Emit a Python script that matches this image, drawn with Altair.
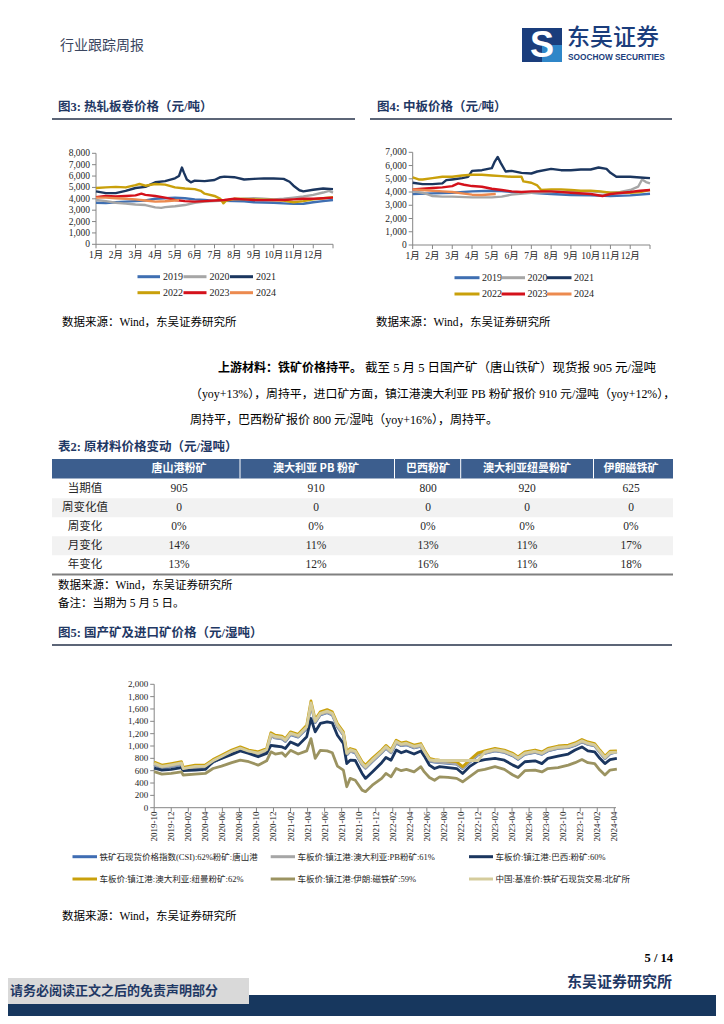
import altair as alt
import pandas as pd

OFF = 8.0


def P(v):
    return round(float(v) - OFF, 2)


SERIF = "Liberation Serif, Noto Sans CJK SC"
CJK = "Noto Sans CJK SC"
NAVY = "#1f3864"
AXIS = "#868686"
ONE = alt.Data(values=[{"k": 0}])

# ---------------- Figure 3: hot-rolled coil price (yuan/t) ----------------
MONTH_LABELS = ["1月", "2月", "3月", "4月", "5月", "6月", "7月", "8月", "9月", "10月", "11月", "12月"]
YEARS = ["2019", "2020", "2021", "2022", "2023", "2024"]
YEAR_COLORS = ["#3f6fb2", "#a6a6a6", "#1b365f", "#c9a00b", "#d4111b", "#ec8a4f"]

HRC19_T = [0, 0.5, 1, 1.5, 2, 2.5, 3, 3.5, 4, 4.5, 5, 5.5, 6, 6.5, 7, 7.5, 8, 8.5, 9, 9.5, 10, 10.5, 11, 11.5, 12]
HRC19_V = [3650, 3620, 3700, 3750, 3800, 3850, 4000, 4050, 4100, 4050, 3950, 3900, 3820, 3820, 3800, 3780, 3700, 3680,
           3650, 3600, 3550, 3560, 3700, 3800, 3900]
HRC20_T = [0, 0.5, 1, 1.5, 2, 2.5, 3, 3.3, 3.5, 4, 4.5, 5, 5.5, 6, 6.5, 7, 7.5, 8, 8.5, 9, 9.5, 10, 10.5, 11, 11.5,
           11.8, 12]
HRC20_V = [3900, 3800, 3650, 3580, 3500, 3450, 3250, 3200, 3270, 3350, 3450, 3650, 3750, 3800, 3850, 3950, 4000, 4050,
           4000, 3950, 4000, 4100, 4200, 4350, 4550, 4700, 4550]
HRC21_T = [0, 0.5, 1, 1.5, 2, 2.5, 3, 3.5, 4, 4.2, 4.3, 4.35, 4.45, 4.6, 4.8, 5, 5.5, 6, 6.3, 6.5, 7, 7.5, 8, 8.5, 9,
           9.5, 9.8, 10, 10.3, 10.5, 11, 11.5, 12]
HRC21_V = [4650, 4500, 4500, 4700, 4950, 5050, 5450, 5550, 5800, 6000, 6500, 6750, 6300, 5700, 5450, 5600, 5550, 5650,
           5900, 5950, 5900, 5700, 5750, 5800, 5780, 5750, 5500, 5150, 4750, 4650, 4800, 4900, 4850]
HRC22_T = [0, 0.5, 1, 1.5, 2, 2.2, 2.5, 3, 3.5, 4, 4.5, 5, 5.3, 5.5, 6, 6.3, 6.45, 6.6, 7, 7.5, 8, 8.5, 9, 9.5, 10,
           10.5, 11, 11.5, 12]
HRC22_V = [4950, 5000, 5050, 5000, 5200, 5300, 5150, 5300, 5250, 5000, 4900, 4850, 4700, 4450, 4250, 4000, 3600, 3850,
           4000, 3980, 3950, 3920, 3900, 3850, 3700, 3800, 3950, 4050, 4150]
HRC23_T = [0, 0.5, 1, 1.5, 2, 2.3, 2.5, 3, 3.5, 4, 4.5, 5, 5.5, 6, 6.5, 7, 7.5, 8, 8.5, 9, 9.5, 10, 10.5, 11, 11.5, 12]
HRC23_V = [4150, 4250, 4200, 4250, 4300, 4450, 4350, 4250, 4100, 3900, 3800, 3750, 3800, 3850, 3900, 4000, 3950, 3900,
           3880, 3900, 3900, 3950, 4000, 4000, 4050, 4100]
HRC24_T = [0, 0.5, 1, 1.5, 2, 2.5, 3, 3.5, 4, 4.2]
HRC24_V = [4100, 4100, 4050, 4000, 3950, 3850, 3750, 3780, 3850, 3880]
HRC_YTICKS = [0, 1000, 2000, 3000, 4000, 5000, 6000, 7000, 8000]
HRC_YLABELS = ["0", "1,000", "2,000", "3,000", "4,000", "5,000", "6,000", "7,000", "8,000"]

# ---------------- Figure 4: medium plate price (yuan/t) ----------------
PL19_T = [0, 1, 2, 3, 4, 4.5, 5, 6, 7, 8, 9, 10, 11, 12]
PL19_V = [3850, 3900, 3950, 4050, 4100, 4080, 4000, 3950, 3850, 3780, 3750, 3700, 3750, 3870]
PL20_T = [0, 0.5, 0.8, 1, 1.5, 2, 3, 4, 4.5, 5, 6, 7, 8, 9, 10, 10.5, 11, 11.4, 11.6, 11.8, 12]
PL20_V = [4050, 3950, 3800, 3700, 3650, 3650, 3600, 3600, 3650, 3800, 3950, 4000, 4050, 4050, 3950, 4000, 4150, 4400,
          4950, 4750, 4650]
PL21_T = [0, 0.5, 1, 1.5, 1.7, 2, 2.5, 2.8, 3, 3.5, 4, 4.15, 4.3, 4.45, 4.7, 5, 5.5, 6, 6.3, 7, 7.5, 8, 8.5, 9, 9.4,
          9.8, 10, 10.3, 11, 11.5, 12]
PL21_V = [4700, 4600, 4600, 4650, 4900, 4950, 5050, 5150, 5600, 5650, 5800, 6300, 6650, 6200, 5550, 5600, 5450, 5400,
          5550, 5750, 5650, 5650, 5700, 5700, 5850, 5750, 5450, 5150, 5150, 5100, 5050]
PL22_T = [0, 0.3, 0.5, 1, 1.5, 2, 2.5, 3, 3.5, 4, 4.5, 5, 5.5, 5.6, 6, 6.3, 6.5, 7, 7.5, 8, 8.5, 9, 9.5, 10, 10.5, 11,
          11.5, 12]
PL22_V = [5100, 4950, 4950, 5050, 5150, 5150, 5250, 5300, 5300, 5250, 5200, 5150, 5150, 4800, 4700, 4500, 4150, 4200,
          4200, 4150, 4100, 4100, 4050, 3950, 3950, 3950, 4000, 4150]
PL23_T = [0, 0.5, 1, 1.5, 2, 2.3, 2.6, 3, 3.5, 4, 4.5, 5, 5.5, 6, 7, 8, 9, 9.6, 10, 11, 11.5, 12]
PL23_V = [4200, 4250, 4300, 4350, 4450, 4650, 4550, 4450, 4400, 4250, 4150, 4050, 4000, 4050, 4050, 3950, 3850, 3700,
          3850, 4000, 4100, 4150]
PL24_T = [0, 0.5, 1, 1.5, 2, 2.5, 3, 3.5, 4, 4.2]
PL24_V = [4200, 4150, 4100, 4050, 4000, 3900, 3800, 3780, 3830, 3850]
PL_YTICKS = [0, 1000, 2000, 3000, 4000, 5000, 6000, 7000]
PL_YLABELS = ["0", "1,000", "2,000", "3,000", "4,000", "5,000", "6,000", "7,000"]

# ---------------- Table 2: raw material prices ----------------
TABLE_HEADERS = ["唐山港粉矿", "澳大利亚 PB 粉矿", "巴西粉矿", "澳大利亚纽曼粉矿", "伊朗磁铁矿"]
TABLE_ROWS = ["当期值", "周变化值", "周变化", "月变化", "年变化"]
COL_TANGSHAN = ["905", "0", "0%", "14%", "13%"]
COL_PB = ["910", "0", "0%", "11%", "12%"]
COL_BRAZIL = ["800", "0", "0%", "13%", "16%"]
COL_NEWMAN = ["920", "0", "0%", "11%", "11%"]
COL_IRAN = ["625", "0", "0%", "17%", "18%"]

# ---------------- Figure 5: domestic & imported ore (yuan/wet t) ----------------
# months since 2019-10
T5 = [0, 0.9, 2.0, 3.2, 3.4, 4.8, 6.0, 6.9, 7.9, 9.1, 10.1, 11.1, 12.2, 13.2, 13.7, 14.2, 15.0, 15.4, 16.0, 16.9,
      17.9, 18.4, 18.9, 19.5, 20.3, 20.9, 21.5, 22.2, 22.6, 23.0, 23.6, 24.4, 24.8, 25.6, 26.7, 27.2, 27.8, 28.4, 29.0,
      29.6, 30.5, 31.3, 31.7, 32.3, 32.9, 33.5, 34.5, 35.5, 36.2, 37.0, 38.0, 38.8, 40.0, 41.1, 42.1, 42.7, 43.5,
      44.7, 45.5, 46.2, 47.4, 48.6, 49.4, 50.2, 50.9, 51.7, 52.3, 52.9, 53.5, 54.3]
CSI_TS = [695, 645, 670, 700, 610, 645, 650, 735, 805, 890, 940, 890, 860, 915, 1165, 1130, 1115, 1075, 1185, 1145,
          1285, 1670, 1380, 1505, 1540, 1505, 1315, 1180, 855, 915, 890, 695, 640, 750, 890, 965, 890, 1050, 1005,
          1020, 970, 995, 890, 755, 740, 730, 720, 705, 635, 735, 855, 880, 920, 895, 840, 785, 865, 895, 865, 920,
          960, 975, 1010, 1065, 1025, 1000, 895, 795, 875, 905]
PB61 = [700, 650, 675, 705, 615, 650, 655, 740, 810, 895, 945, 895, 865, 920, 1170, 1135, 1120, 1080, 1190, 1150,
        1290, 1680, 1385, 1510, 1545, 1510, 1320, 1185, 860, 920, 895, 700, 645, 755, 895, 970, 895, 1055, 1010, 1025,
        975, 1000, 895, 760, 745, 735, 725, 710, 640, 740, 860, 885, 925, 900, 845, 790, 870, 900, 870, 925, 965, 980,
        1015, 1070, 1030, 1005, 900, 800, 880, 910]
BRAZIL60 = [640, 610, 620, 650, 600, 610, 620, 745, 800, 865, 920, 880, 825, 880, 1010, 1000, 985, 960, 1065, 1010,
            1150, 1445, 1230, 1365, 1390, 1375, 1175, 1040, 715, 770, 765, 555, 475, 580, 730, 815, 770, 935, 890, 920,
            870, 920, 835, 690, 635, 665, 650, 635, 555, 665, 755, 780, 800, 770, 690, 650, 745, 760, 715, 800, 835,
            870, 935, 985, 920, 905, 800, 715, 780, 800]
NEWMAN62 = [740, 690, 715, 745, 655, 690, 695, 780, 850, 935, 985, 935, 905, 960, 1215, 1175, 1160, 1120, 1230, 1190,
            1335, 1730, 1430, 1555, 1590, 1555, 1365, 1230, 905, 960, 935, 745, 690, 800, 935, 1010, 935, 1095, 1050,
            1065, 1015, 1040, 935, 800, 780, 770, 760, 745, 665, 770, 890, 920, 960, 935, 880, 825, 905, 935, 905, 960,
            1000, 1015, 1050, 1105, 1065, 1040, 935, 835, 915, 920]
IRAN59 = [585, 545, 555, 580, 530, 545, 555, 635, 675, 730, 770, 745, 690, 760, 905, 870, 890, 835, 930, 870, 920,
          1120, 800, 930, 920, 890, 675, 610, 340, 475, 445, 285, 260, 365, 475, 555, 500, 635, 600, 620, 580, 665,
          580, 490, 445, 500, 490, 475, 420, 500, 600, 620, 665, 620, 530, 490, 600, 610, 580, 635, 650, 690, 730,
          780, 730, 715, 610, 530, 610, 625]
BMS = [720, 670, 695, 725, 635, 670, 675, 760, 830, 915, 965, 915, 885, 940, 1190, 1155, 1140, 1100, 1210, 1170, 1310,
       1700, 1405, 1530, 1565, 1530, 1340, 1205, 880, 940, 915, 720, 665, 775, 915, 990, 915, 1075, 1030, 1045, 995,
       1020, 915, 780, 765, 765, 765, 765, 765, 765, 765, 900, 940, 915, 860, 805, 885, 915, 885, 940, 980, 995,
       1030, 1085, 1045, 1020, 915, 815, 895, 900]
F5_NAMES = ["铁矿石现货价格指数(CSI):62%粉矿:唐山港", "车板价:镇江港:澳大利亚:PB粉矿:61%", "车板价:镇江港:巴西:粉矿:60%",
            "车板价:镇江港:澳大利亚:纽曼粉矿:62%", "车板价:镇江港:伊朗:磁铁矿:59%", "中国:基准价:铁矿石现货交易:北矿所"]
F5_COLORS = ["#3f6db3", "#a6a6a6", "#1b365f", "#c9a00b", "#9b9361", "#d5cc9c"]
F5_XLABELS = ["2019-10", "2019-12", "2020-02", "2020-04", "2020-06", "2020-08", "2020-10", "2020-12", "2021-02",
              "2021-04", "2021-06", "2021-08", "2021-10", "2021-12", "2022-02", "2022-04", "2022-06", "2022-08",
              "2022-10", "2022-12", "2023-02", "2023-04", "2023-06", "2023-08", "2023-10", "2023-12", "2024-02",
              "2024-04"]
F5_XTICKS = [2 * i for i in range(len(F5_XLABELS))]
F5_YTICKS = [0, 200, 400, 600, 800, 1000, 1200, 1400, 1600, 1800, 2000]
F5_YLABELS = ["0", "200", "400", "600", "800", "1,000", "1,200", "1,400", "1,600", "1,800", "2,000"]

layers = []


def text(s, x, y, size=12.0, color="#000000", weight="normal", align="left", font=SERIF, baseline="middle"):
    layers.append(alt.Chart(ONE).mark_text(text=s, fontSize=size, color=color, fontWeight=weight, align=align,
                                           baseline=baseline, font=font)
                  .encode(x=alt.value(P(x)), y=alt.value(P(y))))


def rect(x1, y1, x2, y2, color):
    layers.append(alt.Chart(ONE).mark_rect(color=color)
                  .encode(x=alt.value(P(x1)), x2=alt.value(P(x2)), y=alt.value(P(y1)), y2=alt.value(P(y2))))


def hline(x1, x2, y, color, w=1.0):
    layers.append(alt.Chart(ONE).mark_rule(color=color, strokeWidth=w)
                  .encode(x=alt.value(P(x1)), x2=alt.value(P(x2)), y=alt.value(P(y))))


def vline(x, y1, y2, color, w=1.0):
    layers.append(alt.Chart(ONE).mark_rule(color=color, strokeWidth=w)
                  .encode(x=alt.value(P(x)), y=alt.value(P(y1)), y2=alt.value(P(y2))))


def line_panel(series, xdom, xpx, ydom, ypx, sw, yticks, ylabs, xticks, lab_ticks, xlabs, xlab_y,
               rotate=False, lab_size=9.5):
    xs = alt.Scale(domain=xdom, range=[P(xpx[0]), P(xpx[1])], nice=False, zero=False)
    ys = alt.Scale(domain=ydom, range=[P(ypx[0]), P(ypx[1])], nice=False, zero=False)
    ax_x, ax_y = xpx[0], ypx[0]
    sub = [
        alt.Chart(ONE).mark_rule(color=AXIS, strokeWidth=1).encode(
            x=alt.value(P(ax_x)), y=alt.value(P(ypx[1])), y2=alt.value(P(ax_y))),
        alt.Chart(ONE).mark_rule(color=AXIS, strokeWidth=1).encode(
            x=alt.value(P(ax_x)), x2=alt.value(P(xpx[1])), y=alt.value(P(ax_y))),
    ]
    ydf = pd.DataFrame({"v": yticks, "lab": ylabs})
    sub.append(alt.Chart(ydf).mark_rule(color=AXIS, strokeWidth=1).encode(
        y=alt.Y("v:Q", scale=ys, axis=None), x=alt.value(P(ax_x - 4)), x2=alt.value(P(ax_x))))
    sub.append(alt.Chart(ydf).mark_text(align="right", baseline="middle", fontSize=lab_size, font=SERIF,
                                        color="#262626").encode(
        y=alt.Y("v:Q", scale=ys, axis=None), x=alt.value(P(ax_x - 6)), text="lab:N"))
    tdf = pd.DataFrame({"t": xticks})
    sub.append(alt.Chart(tdf).mark_rule(color=AXIS, strokeWidth=1).encode(
        x=alt.X("t:Q", scale=xs, axis=None), y=alt.value(P(ax_y)), y2=alt.value(P(ax_y + 4))))
    ldf = pd.DataFrame({"t": lab_ticks, "lab": xlabs})
    if rotate:
        sub.append(alt.Chart(ldf).mark_text(angle=270, align="right", baseline="middle", fontSize=lab_size,
                                            font=SERIF, color="#262626").encode(
            x=alt.X("t:Q", scale=xs, axis=None), y=alt.value(P(xlab_y)), text="lab:N"))
    else:
        sub.append(alt.Chart(ldf).mark_text(align="center", baseline="middle", fontSize=lab_size, font=SERIF,
                                            color="#262626").encode(
            x=alt.X("t:Q", scale=xs, axis=None), y=alt.value(P(xlab_y)), text="lab:N"))
    for t, v, c in series:
        df = pd.DataFrame({"t": t, "v": v})
        sub.append(alt.Chart(df).mark_line(color=c, strokeWidth=sw, strokeJoin="round").encode(
            x=alt.X("t:Q", scale=xs, axis=None), y=alt.Y("v:Q", scale=ys, axis=None)))
    layers.append(alt.layer(*sub))


def legend(names, colors, sym_x, lab_x, rows_y, size=10.0, font=SERIF, sw=3.0):
    for i, (n, c) in enumerate(zip(names, colors)):
        r, col = divmod(i, 3)
        hline(sym_x[col][0], sym_x[col][1], rows_y[r], c, sw)
        text(n, lab_x[col], rows_y[r], size=size, font=font, color="#262626")


# ---------------- header ----------------
text("行业跟踪周报", 60, 46, size=14, color="#3b4660", font=CJK)
rect(522, 28, 562, 62, "#1a3d7c")
rect(542, 45, 562, 62, "#2f86c8")
text("S", 542, 46, size=36, color="#ffffff", weight="bold", align="center", font="Liberation Sans")
text("东吴证券", 567, 38, size=23, color="#1a3d7c", font=CJK, weight=500)
text("SOOCHOW SECURITIES", 568, 58, size=8.3, color="#1a3d7c", weight="bold", font="Liberation Sans")

# ---------------- figure 3 ----------------
text("图3: 热轧板卷价格（元/吨）", 58, 107, size=12.5, color=NAVY, weight="bold")
hline(52, 355, 119, "#26324a", 1.6)
line_panel([(HRC19_T, HRC19_V, YEAR_COLORS[0]), (HRC20_T, HRC20_V, YEAR_COLORS[1]),
            (HRC21_T, HRC21_V, YEAR_COLORS[2]), (HRC22_T, HRC22_V, YEAR_COLORS[3]),
            (HRC23_T, HRC23_V, YEAR_COLORS[4]), (HRC24_T, HRC24_V, YEAR_COLORS[5])],
           [0, 12], [96, 333], [0, 8000], [244.3, 153.3], 2.4,
           HRC_YTICKS, HRC_YLABELS, list(range(13)), list(range(12)), MONTH_LABELS, 255)
legend(YEARS, YEAR_COLORS, [(137.5, 160), (183.5, 206.5), (230, 253)], [163, 209.5, 256], [276.7, 292.7])
text("数据来源：Wind，东吴证券研究所", 62, 323, size=11.5)

# ---------------- figure 4 ----------------
text("图4: 中板价格（元/吨）", 377, 107, size=12.5, color=NAVY, weight="bold")
hline(370, 672, 119, "#26324a", 1.6)
line_panel([(PL19_T, PL19_V, YEAR_COLORS[0]), (PL20_T, PL20_V, YEAR_COLORS[1]),
            (PL21_T, PL21_V, YEAR_COLORS[2]), (PL22_T, PL22_V, YEAR_COLORS[3]),
            (PL23_T, PL23_V, YEAR_COLORS[4]), (PL24_T, PL24_V, YEAR_COLORS[5])],
           [0, 12], [412.7, 650], [0, 7000], [245, 152.3], 2.4,
           PL_YTICKS, PL_YLABELS, list(range(13)), list(range(12)), MONTH_LABELS, 255.7)
legend(YEARS, YEAR_COLORS, [(454.5, 479.5), (501.5, 525), (547, 571.5)], [482, 527.5, 574], [277.7, 294])
text("数据来源：Wind，东吴证券研究所", 376, 323, size=11.5)

# ---------------- paragraph ----------------
text("上游材料：铁矿价格持平。", 218, 368, size=12, weight="bold", font=CJK)
text("截至 5 月 5 日国产矿（唐山铁矿）现货报 905 元/湿吨", 365, 368, size=12.5)
text("（yoy+13%），周持平，进口矿方面，镇江港澳大利亚 PB 粉矿报价 910 元/湿吨（yoy+12%），", 190, 394, size=11.9)
text("周持平，巴西粉矿报价 800 元/湿吨（yoy+16%），周持平。", 190, 420, size=12)

# ---------------- table 2 ----------------
text("表2: 原材料价格变动（元/湿吨）", 58, 447, size=12.5, color=NAVY, weight="bold")
rect(52, 459, 673, 478.5, "#3c5e8e")
for sx in [240, 394.5, 460.7, 593.5]:
    vline(sx, 459, 478.5, "#ffffff", 1)
rect(52, 498.3, 673, 517.3, "#f2f2f2")
rect(52, 536.3, 673, 555.3, "#f2f2f2")
COL_X = [179, 316, 428, 527, 631]
for hx, h in zip(COL_X, TABLE_HEADERS):
    text(h, hx, 469, size=11, color="#ffffff", weight="bold", align="center", font=CJK)
row_scale = alt.Scale(type="point", domain=TABLE_ROWS, range=[P(488.7), P(564.5)], padding=0)
table_cols = [(85, TABLE_ROWS, CJK), (COL_X[0], COL_TANGSHAN, SERIF), (COL_X[1], COL_PB, SERIF),
              (COL_X[2], COL_BRAZIL, SERIF), (COL_X[3], COL_NEWMAN, SERIF), (COL_X[4], COL_IRAN, SERIF)]
for cx, vals, fnt in table_cols:
    tdf = pd.DataFrame({"row": TABLE_ROWS, "val": vals})
    layers.append(alt.Chart(tdf).mark_text(align="center", baseline="middle", fontSize=11.5, font=fnt,
                                           color="#262626").encode(
        y=alt.Y("row:N", scale=row_scale, axis=None, sort=None), x=alt.value(P(cx)), text="val:N"))
hline(52, 673, 574.5, "#808080", 2)
text("数据来源：Wind，东吴证券研究所", 58, 585.5, size=11.5)
text("备注：当期为 5 月 5 日。", 58, 604, size=11.5)

# ---------------- figure 5 ----------------
text("图5: 国产矿及进口矿价格（元/湿吨）", 58, 633, size=12.5, color=NAVY, weight="bold")
hline(52, 672, 645, "#26324a", 1.6)
line_panel([(T5, CSI_TS, F5_COLORS[0]), (T5, PB61, F5_COLORS[1]), (T5, BRAZIL60, F5_COLORS[2]),
            (T5, NEWMAN62, F5_COLORS[3]), (T5, IRAN59, F5_COLORS[4]), (T5, BMS, F5_COLORS[5])],
           [0, 54.2], [154.2, 616], [0, 2000], [807.7, 684.3], 2.8,
           F5_YTICKS, F5_YLABELS, F5_XTICKS, F5_XTICKS, F5_XLABELS, 811.5, rotate=True, lab_size=9)
legend(F5_NAMES, F5_COLORS, [(72.5, 97), (270.7, 295), (469, 493)], [99.5, 297.5, 495.5], [856.7, 879],
       size=8.5, font=SERIF)
text("数据来源：Wind，东吴证券研究所", 62, 917, size=11.5)

# ---------------- footer ----------------
text("5 / 14", 673, 958, size=12.5, weight="bold", align="right")
text("东吴证券研究所", 672, 982, size=15, color=NAVY, weight="bold", align="right", font=CJK)
rect(0, 995, 724, 1024, "#17375e")
rect(0, 978, 249, 1004, "#d9d9d9")
text("请务必阅读正文之后的免责声明部分", 10, 991, size=13, color=NAVY, weight="bold", font=CJK)

chart = alt.layer(*layers).properties(
    width=708, height=1008, padding=0, autosize=alt.AutoSizeParams(type="none"), background="white"
).resolve_scale(x="independent", y="independent").configure_view(strokeWidth=0)

chart.save("out.html", embed_options={"renderer": "svg", "actions": False})
